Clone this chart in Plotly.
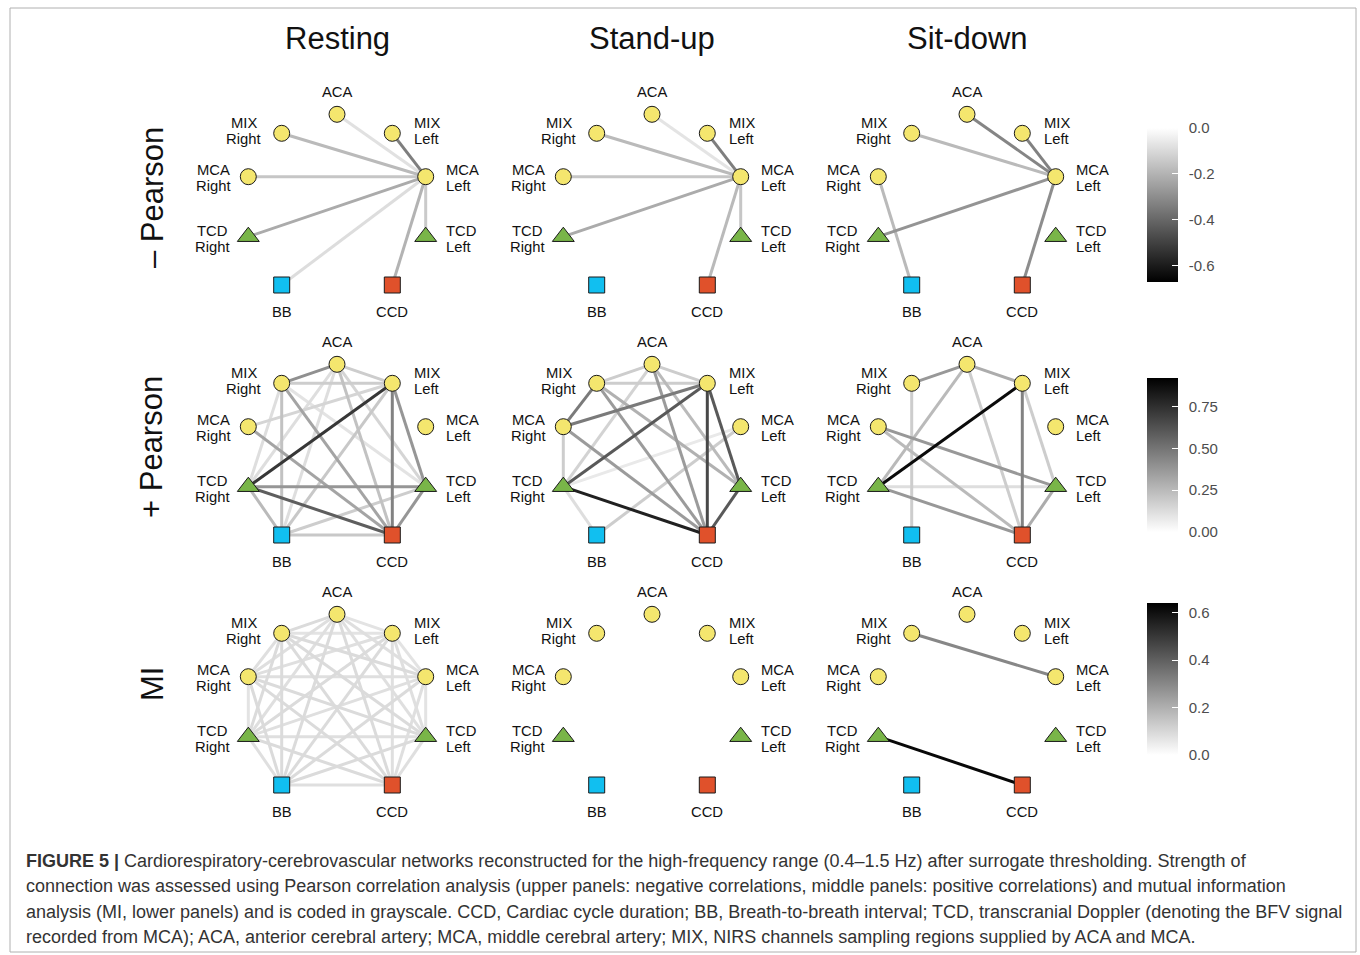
import plotly.graph_objects as go
from plotly.colors import sample_colorscale

# ---------------------------------------------------------------- data
COLUMNS = ["Resting", "Stand-up", "Sit-down"]
ROWS = ["– Pearson", "+ Pearson", "MI"]

NODES = ["ACA", "MIX Left", "MCA Left", "TCD Left", "CCD",
         "BB", "TCD Right", "MCA Right", "MIX Right"]

# edges: (node a, node b, strength)
neg_resting = [
    ("ACA", "MCA Left", -0.08), ("BB", "MCA Left", -0.09),
    ("TCD Left", "MCA Left", -0.14), ("MCA Right", "MCA Left", -0.15),
    ("MIX Right", "MCA Left", -0.18), ("CCD", "MCA Left", -0.20),
    ("TCD Right", "MCA Left", -0.22), ("MIX Left", "MCA Left", -0.34),
]
neg_standup = [
    ("ACA", "MCA Left", -0.07), ("TCD Left", "MCA Left", -0.15),
    ("MCA Right", "MCA Left", -0.15), ("MIX Right", "MCA Left", -0.18),
    ("CCD", "MCA Left", -0.18), ("TCD Right", "MCA Left", -0.22),
    ("MIX Left", "MCA Left", -0.34),
]
neg_sitdown = [
    ("MIX Right", "MCA Left", -0.18), ("MCA Right", "BB", -0.18),
    ("TCD Right", "MCA Left", -0.28), ("CCD", "MCA Left", -0.30),
    ("ACA", "MCA Left", -0.32), ("MIX Left", "MCA Left", -0.33),
]

pos_resting = [
    ("MIX Right", "TCD Left", 0.10),
    ("ACA", "TCD Right", 0.12), ("ACA", "BB", 0.12),
    ("MIX Right", "TCD Right", 0.12), ("MIX Left", "MCA Right", 0.15),
    ("ACA", "TCD Left", 0.15), ("ACA", "MIX Left", 0.18),
    ("MIX Right", "MIX Left", 0.18), ("BB", "TCD Left", 0.18),
    ("MIX Left", "BB", 0.20), ("BB", "CCD", 0.20),
    ("MIX Right", "BB", 0.22), ("ACA", "CCD", 0.22),
    ("TCD Right", "BB", 0.25), ("MIX Right", "CCD", 0.33),
    ("MCA Right", "CCD", 0.33), ("MIX Left", "TCD Left", 0.38),
    ("TCD Right", "TCD Left", 0.38), ("CCD", "TCD Left", 0.38),
    ("ACA", "MIX Right", 0.40), ("MIX Left", "CCD", 0.45),
    ("TCD Right", "CCD", 0.58), ("MIX Left", "TCD Right", 0.72),
]
pos_standup = [
    ("TCD Right", "MCA Left", 0.08), ("TCD Right", "BB", 0.12),
    ("ACA", "TCD Right", 0.16), ("ACA", "MIX Right", 0.18),
    ("ACA", "MIX Left", 0.18), ("MIX Right", "MIX Left", 0.18),
    ("MCA Right", "TCD Right", 0.18), ("BB", "MCA Left", 0.18),
    ("ACA", "TCD Left", 0.25), ("MIX Right", "TCD Left", 0.28),
    ("ACA", "CCD", 0.36), ("MIX Right", "CCD", 0.36),
    ("MCA Right", "CCD", 0.36), ("MIX Right", "MCA Right", 0.48),
    ("MCA Right", "MIX Left", 0.48), ("MIX Left", "TCD Right", 0.60),
    ("MIX Left", "TCD Left", 0.60), ("CCD", "TCD Left", 0.60),
    ("MIX Left", "CCD", 0.66), ("TCD Right", "CCD", 0.80),
]
pos_sitdown = [
    ("TCD Right", "TCD Left", 0.12), ("ACA", "CCD", 0.18),
    ("MIX Right", "BB", 0.18), ("MIX Left", "TCD Left", 0.18),
    ("ACA", "TCD Right", 0.25), ("MCA Right", "CCD", 0.25),
    ("ACA", "MIX Left", 0.30), ("CCD", "TCD Left", 0.30),
    ("ACA", "MIX Right", 0.37), ("MCA Right", "TCD Left", 0.37),
    ("TCD Right", "CCD", 0.37), ("MIX Left", "CCD", 0.45),
    ("MIX Left", "TCD Right", 0.88),
]

mi_resting = [
    ("ACA", "MIX Left", 0.07), ("ACA", "MCA Left", 0.08), ("ACA", "TCD Left", 0.08),
    ("ACA", "CCD", 0.09), ("ACA", "BB", 0.09), ("ACA", "TCD Right", 0.08),
    ("ACA", "MCA Right", 0.08), ("ACA", "MIX Right", 0.09),
    ("MIX Left", "MCA Left", 0.07), ("MIX Left", "TCD Left", 0.08),
    ("MIX Left", "CCD", 0.08), ("MIX Left", "BB", 0.09),
    ("MIX Left", "TCD Right", 0.09), ("MIX Left", "MCA Right", 0.08),
    ("MIX Left", "MIX Right", 0.07),
    ("MCA Left", "TCD Left", 0.07), ("MCA Left", "CCD", 0.08),
    ("MCA Left", "BB", 0.09), ("MCA Left", "TCD Right", 0.08),
    ("MCA Left", "MCA Right", 0.08), ("MCA Left", "MIX Right", 0.09),
    ("TCD Left", "CCD", 0.08), ("TCD Left", "BB", 0.09),
    ("TCD Left", "TCD Right", 0.08), ("TCD Left", "MCA Right", 0.09),
    ("TCD Left", "MIX Right", 0.09),
    ("CCD", "BB", 0.08), ("CCD", "TCD Right", 0.09),
    ("CCD", "MCA Right", 0.09), ("CCD", "MIX Right", 0.09),
    ("BB", "TCD Right", 0.08), ("BB", "MCA Right", 0.09),
    ("BB", "MIX Right", 0.09),
    ("TCD Right", "MCA Right", 0.07), ("TCD Right", "MIX Right", 0.09),
    ("MCA Right", "MIX Right", 0.08),
]
mi_standup = []
mi_sitdown = [("MIX Right", "MCA Left", 0.30), ("TCD Right", "CCD", 0.62)]

PANELS = [
    [neg_resting, neg_standup, neg_sitdown],
    [pos_resting, pos_standup, pos_sitdown],
    [mi_resting, mi_standup, mi_sitdown],
]

# colour scale limits per row
SCALE_MIN = [-0.67, 0.0, 0.0]
SCALE_MAX = [0.0, 0.92, 0.64]
TICKS = [[0.0, -0.2, -0.4, -0.6], [0.0, 0.25, 0.5, 0.75], [0.0, 0.2, 0.4, 0.6]]
TICK_TEXT = [["0.0", "-0.2", "-0.4", "-0.6"], ["0.00", "0.25", "0.50", "0.75"],
             ["0.0", "0.2", "0.4", "0.6"]]

# ---------------------------------------------------------------- layout
W, H = 1360, 955
COL_X = [337, 652, 967]
ROW_Y = [201, 451, 701]
HALF_W, HALF_H = 155, 124

# node layout on the ring (pixel offsets, y pointing down)
NODE_POS = {
    "ACA": (0, -86.7), "MIX Left": (55.3, -67.7), "MIX Right": (-55.3, -67.7),
    "MCA Left": (88.7, -24.3), "MCA Right": (-88.7, -24.3),
    "TCD Left": (88.7, 35.7), "TCD Right": (-88.7, 35.7),
    "BB": (-55.3, 84.0), "CCD": (55.3, 84.0),
}
NODE_STYLE = {
    "circle": dict(symbol="circle", size=16, color="#F4E66E"),
    "triangle": dict(symbol="triangle-up", size=19, color="#79B548"),
    "bb": dict(symbol="square", size=16, color="#11BFF0"),
    "ccd": dict(symbol="square", size=16, color="#E0512B"),
}
NODE_KIND = {"ACA": "circle", "MIX Left": "circle", "MIX Right": "circle",
             "MCA Left": "circle", "MCA Right": "circle",
             "TCD Left": "triangle", "TCD Right": "triangle",
             "BB": "bb", "CCD": "ccd"}
# label lines: (text, x shift, y shift (down), x anchor)
NODE_LABELS = {
    "ACA": [("ACA", 0, -22.6, "center")],
    "BB": [("BB", 0, 26.7, "center")],
    "CCD": [("CCD", 0, 26.7, "center")],
    "MIX Right": [("MIX", -38, -10, "center"), ("Right", -38, 6, "center")],
    "MCA Right": [("MCA", -35, -7, "center"), ("Right", -35, 9, "center")],
    "TCD Right": [("TCD", -36, -6, "center"), ("Right", -36, 10.5, "center")],
    "MIX Left": [("MIX", 19.5, -10, "left"), ("Left", 19.5, 6, "left")],
    "MCA Left": [("MCA", 18.5, -7, "left"), ("Left", 18.5, 9, "left")],
    "TCD Left": [("TCD", 18.5, -6, "left"), ("Left", 18.5, 10.5, "left")],
}

FONT = "Liberation Sans, Arial, sans-serif"
GREYS = [[0.0, "#FFFFFF"], [1.0, "#000000"]]
GREYS_NEG = [[0.0, "#000000"], [1.0, "#FFFFFF"]]
PAD = "\u00a0\u2009"  # small gap between colour bar and its labels

fig = go.Figure()
annotations = []
layout_axes = {}

for r in range(3):
    lo, hi = SCALE_MIN[r], SCALE_MAX[r]
    scale = GREYS_NEG if r == 0 else GREYS
    for c in range(3):
        k = r * 3 + c + 1
        sfx = "" if k == 1 else str(k)
        cx, cy = COL_X[c], ROW_Y[r]
        layout_axes["xaxis" + sfx] = dict(
            domain=[(cx - HALF_W) / W, (cx + HALF_W) / W],
            range=[-HALF_W, HALF_W], visible=False, fixedrange=True)
        layout_axes["yaxis" + sfx] = dict(
            domain=[1 - (cy + HALF_H) / H, 1 - (cy - HALF_H) / H],
            range=[HALF_H, -HALF_H], visible=False, fixedrange=True)
        xa, ya = "x" + sfx, "y" + sfx

        edges = sorted(PANELS[r][c], key=lambda e: abs(e[2]))
        for a, b, v in edges:
            col = sample_colorscale(scale, [(v - lo) / (hi - lo)])[0]
            (x0, y0), (x1, y1) = NODE_POS[a], NODE_POS[b]
            fig.add_trace(go.Scatter(
                x=[x0, x1], y=[y0, y1], mode="lines", xaxis=xa, yaxis=ya,
                line=dict(color=col, width=3), hoverinfo="skip",
                showlegend=False))

        for kind, st in NODE_STYLE.items():
            names = [n for n in NODES if NODE_KIND[n] == kind]
            fig.add_trace(go.Scatter(
                x=[NODE_POS[n][0] for n in names],
                y=[NODE_POS[n][1] for n in names],
                mode="markers", xaxis=xa, yaxis=ya, showlegend=False,
                hovertext=names, hoverinfo="text",
                marker=dict(symbol=st["symbol"], size=st["size"],
                            color=st["color"],
                            line=dict(color="#1a1a1a", width=1))))

        for n in NODES:
            for text, dx, dy, anchor in NODE_LABELS[n]:
                annotations.append(dict(
                    x=NODE_POS[n][0], y=NODE_POS[n][1], xref=xa, yref=ya,
                    text=text, showarrow=False, xanchor=anchor,
                    yanchor="middle", xshift=dx, yshift=-dy,
                    font=dict(family=FONT, size=14.8, color="#111111")))

    # colour bar for the row
    cax = "coloraxis" if r == 0 else "coloraxis%d" % (r + 1)
    bar_mid = [205, 455, 679][r]
    bar_len = [154, 154, 152][r]
    layout_axes[cax] = dict(
        cmin=lo, cmax=hi, colorscale=scale, showscale=True,
        colorbar=dict(
            x=1147 / W, xanchor="left", y=1 - bar_mid / H, yanchor="middle",
            thickness=31, len=bar_len, lenmode="pixels", outlinewidth=0,
            tickvals=TICKS[r], ticktext=[PAD + t for t in TICK_TEXT[r]],
            ticks="inside", ticklen=6, tickcolor="#FFFFFF", tickwidth=1,
            tickfont=dict(family=FONT, size=15, color="#4d4d4d"),
            xpad=0, ypad=0))
    fig.add_trace(go.Scatter(
        x=[0], y=[0], mode="markers", xaxis="x" if r == 0 else "x%d" % (r * 3 + 1),
        yaxis="y" if r == 0 else "y%d" % (r * 3 + 1), hoverinfo="skip",
        showlegend=False,
        marker=dict(size=1, opacity=0, color=[lo], coloraxis=cax)))

# column and row headings
for c, t in enumerate(COLUMNS):
    annotations.append(dict(
        x=COL_X[c] / W, y=1 - 38 / H, xref="paper", yref="paper", text=t,
        showarrow=False, xanchor="center", yanchor="middle",
        font=dict(family=FONT, size=31, color="#111111")))
for r, t in enumerate(ROWS):
    annotations.append(dict(
        x=152 / W, y=1 - [198, 447, 684][r] / H, xref="paper", yref="paper",
        text=t, textangle=-90, showarrow=False, xanchor="center",
        yanchor="middle", font=dict(family=FONT, size=31, color="#111111")))

# caption
CAPTION = [
    "<b>FIGURE 5 |</b> Cardiorespiratory-cerebrovascular networks reconstructed for the "
    "high-frequency range (0.4–1.5 Hz) after surrogate thresholding. Strength of",
    "connection was assessed using Pearson correlation analysis (upper panels: negative "
    "correlations, middle panels: positive correlations) and mutual information",
    "analysis (MI, lower panels) and is coded in grayscale. CCD, Cardiac cycle duration; "
    "BB, Breath-to-breath interval; TCD, transcranial Doppler (denoting the BFV signal",
    "recorded from MCA); ACA, anterior cerebral artery; MCA, middle cerebral artery; "
    "MIX, NIRS channels sampling regions supplied by ACA and MCA.",
]
for i, line in enumerate(CAPTION):
    annotations.append(dict(
        x=24 / W, y=1 - (861 + 25.4 * i) / H, xref="paper", yref="paper",
        text=line, showarrow=False, xanchor="left", yanchor="middle",
        font=dict(family=FONT, size=18, color="#333333")))

fig.update_layout(
    width=W, height=H, margin=dict(l=0, r=0, t=0, b=0),
    paper_bgcolor="white", plot_bgcolor="rgba(0,0,0,0)",
    annotations=annotations, showlegend=False,
    shapes=[dict(type="rect", xref="paper", yref="paper",
                 x0=10 / W, x1=1356 / W, y0=1 - 952 / H, y1=1 - 8 / H,
                 line=dict(color="#b0b0b0", width=1))],
    **layout_axes)

fig.write_html("out.html")
